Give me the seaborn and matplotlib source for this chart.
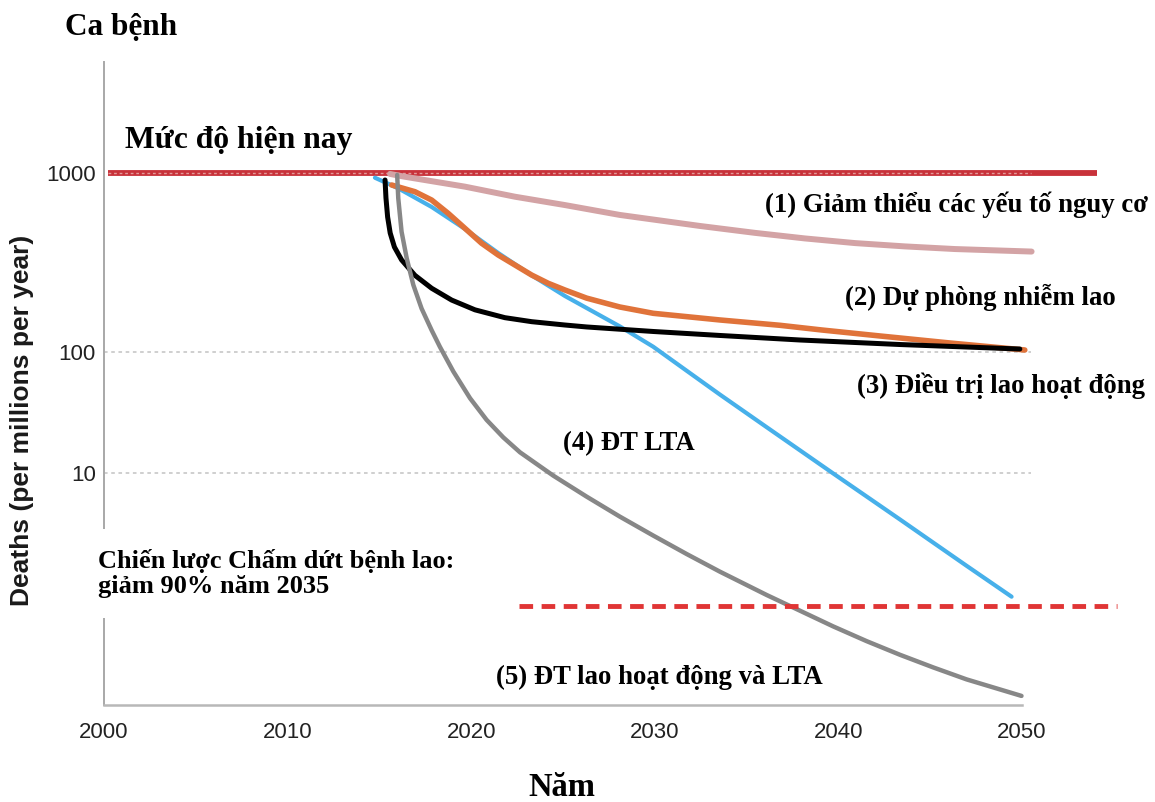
import numpy as np
import pandas as pd
import matplotlib
matplotlib.use("Agg")
import matplotlib.pyplot as plt
import seaborn as sns
from matplotlib.ticker import NullLocator

# ---------------- data ----------------
x_ticks = [2000, 2010, 2020, 2030, 2040, 2050]
y_ticks = [10, 100, 1000]
y_tick_labels = ["10", "100", "1000"]

current_level_years = [2000.2, 2054.1]
current_level = [1000, 1000]

target_years = [2022.6, 2055.2]
target_level = [0.8, 0.8]

# (1) risk-factor reduction
s1_years = [2015.58, 2016.39, 2019.66, 2022.39, 2025.11, 2028.10, 2032.46, 2035.46,
            2038.18, 2040.90, 2043.63, 2046.35, 2050.53]
s1_vals = [988, 953, 839, 737, 662, 583, 506, 463, 431, 406, 389, 376, 364]

# (2) infection prevention
s2_years = [2015.67, 2016.94, 2017.85, 2018.75, 2019.66, 2020.57, 2021.48, 2022.39,
            2023.30, 2024.20, 2025.11, 2026.29, 2028.10, 2029.92, 2033.55, 2036.82,
            2039.11, 2042.27, 2046.08, 2050.16]
s2_vals = [857, 786, 706, 595, 491, 405, 348, 306, 269, 242, 222, 200, 178.4, 164.5,
           151, 141, 132.7, 122.9, 112.3, 102.6]

# (3) active TB treatment
s3_years = [2015.31, 2015.36, 2015.45, 2015.59, 2015.82, 2016.21, 2016.94, 2017.85,
            2018.94, 2020.21, 2021.84, 2023.30, 2025.11, 2026.29, 2029.92, 2033.55,
            2037.91, 2043.36, 2049.89]
s3_vals = [914, 725, 568, 462, 386, 327, 268, 227, 195, 172, 155.5, 147.7, 141.5,
           138, 130.2, 123.7, 116.7, 110.1, 103.9]

# (4) LTBI treatment
s4_years = [2014.76, 2016.03, 2017.85, 2019.66, 2021.48, 2023.30, 2025.11, 2028.10,
            2029.92, 2031.74, 2033.55, 2036.10, 2037.91, 2039.72, 2041.54, 2043.36,
            2045.17, 2046.99, 2049.44]
s4_vals = [941, 821, 646, 487, 357, 268, 205.5, 139, 107, 70.0, 44.5, 23.9, 15.4,
           9.92, 6.40, 4.13, 2.66, 1.71, 0.95]

# (5) active TB + LTBI treatment
s5_years = [2015.97, 2016.03, 2016.21, 2016.49, 2016.85, 2017.30, 2017.85, 2018.30,
            2019.03, 2019.94, 2020.84, 2021.75, 2022.66, 2024.47, 2026.29, 2028.10,
            2029.92, 2031.74, 2033.55, 2036.10, 2037.91, 2039.72, 2041.54, 2043.36,
            2045.17, 2046.99, 2049.98]
s5_vals = [975, 722, 470, 334, 237, 175, 132.2, 106.8, 69.0, 41.5, 27.5, 19.7, 14.83,
           9.52, 6.38, 4.36, 3.04, 2.14, 1.53, 0.981, 0.728, 0.540, 0.408, 0.3145,
           0.2474, 0.1969, 0.1438]

series_labels = [
    "(1) Giảm thiểu các yếu tố nguy cơ",
    "(2) Dự phòng nhiễm lao",
    "(3) Điều trị lao hoạt động",
    "(4) ĐT LTA",
    "(5) ĐT lao hoạt động và LTA",
]

# ---------------- style ----------------
sns.set_style("white")
plt.rcParams["font.family"] = ["Liberation Sans", "DejaVu Sans"]

W, H = 1155, 802
fig = plt.figure(figsize=(W / 100, H / 100), dpi=100)
ax = fig.add_axes([104 / W, 1 - 705 / H, (1132 - 104) / W, (705 - 62) / H])


# piecewise-logarithmic axis (the reference's decades have unequal heights)
def fwd(v):
    v = np.asarray(v, dtype=float)
    with np.errstate(all="ignore"):
        t = np.log10(np.clip(v, 1e-12, None))
    return np.where(t <= 2, 121.0 * t, 242.0 + 179.0 * (t - 2))


def inv(u):
    u = np.clip(np.asarray(u, dtype=float), -2000, 2000)
    with np.errstate(all="ignore"):
        return np.where(u <= 242, 10 ** (u / 121.0), 10 ** (2 + (u - 242.0) / 179.0))


ax.set_yscale("function", functions=(fwd, inv))
ax.set_xlim(2000, 2056)
ax.set_ylim(float(inv(-111)), float(inv(532)))

# grid lines (dotted)
for v in y_ticks[:2]:
    ax.hlines(v, x_ticks[0], x_ticks[-1] + 0.5, colors="#cccccc", linewidth=1.3,
              linestyles=(0, (2, 2)), zorder=1)

# current level
ax.plot(current_level_years, current_level, color="#c8323a", linewidth=4.2,
        solid_capstyle="butt", zorder=2)
ax.hlines(current_level[0], x_ticks[0] + 0.2, x_ticks[-1] + 0.5, colors="#e49a9a",
          linewidth=1.0, linestyles=(0, (2, 2)), zorder=2.1)

frames = [
    (s1_years, s1_vals, "#d3a3a5", 4.3, 3),
    (s4_years, s4_vals, "#47b0ea", 3.0, 4),
    (s2_years, s2_vals, "#e0733a", 4.0, 5),
    (s3_years, s3_vals, "#000000", 3.6, 6),
    (s5_years, s5_vals, "#878787", 3.2, 7),
]
for yrs, vals, col, lw, z in frames:
    df = pd.DataFrame({"year": yrs, "value": vals})
    sns.lineplot(data=df, x="year", y="value", ax=ax, color=col, linewidth=lw,
                 sort=False, estimator=None, zorder=z)
for ln in ax.get_lines():
    ln.set_solid_joinstyle("round")

# target line
ax.plot(target_years, target_level, color="#e03535", linewidth=3.5,
        linestyle=(0, (2.8, 1.75)), zorder=8)

# axes cosmetics
for sp in ["top", "right"]:
    ax.spines[sp].set_visible(False)
ax.spines["left"].set_color("#a8a8a8")
ax.spines["left"].set_linewidth(1.4)
ax.spines["bottom"].set_color("#b8b8b8")
ax.spines["bottom"].set_linewidth(1.8)
ax.spines["bottom"].set_bounds(x_ticks[0], x_ticks[-1])

ax.set_xticks(x_ticks)
ax.set_xticklabels([str(x) for x in x_ticks])
ax.set_yticks(y_ticks)
ax.set_yticklabels(y_tick_labels)
ax.yaxis.set_minor_locator(NullLocator())
ax.xaxis.set_minor_locator(NullLocator())
ax.tick_params(axis="x", direction="inout", length=10, width=1.2, color="#b8b8b8",
               pad=7, labelsize=16, labelcolor="#222222")
ax.tick_params(axis="y", length=0, pad=6, labelsize=16, labelcolor="#222222")
ax.set_xlabel("")
ax.set_ylabel("")
ax.grid(False)

serif = ["Liberation Serif", "DejaVu Serif"]


def ftext(px, py, s, size, **kw):
    return fig.text(px / W, 1 - py / H, s, fontsize=size, family=serif,
                    fontweight="bold", va="baseline", ha="left", color="black", **kw)


ftext(65, 35, "Ca bệnh", 22.5)
ftext(125, 148, "Mức độ hiện nay", 22.8)
ftext(528, 796, "Năm", 23.5)
ftext(765, 212, series_labels[0], 19.3)
ftext(845, 305, series_labels[1], 19.3)
ftext(857, 393, series_labels[2], 19.3)
ftext(563, 450, series_labels[3], 19.3)
ftext(496, 684, series_labels[4], 19.3)
fig.text(98 / W, 1 - 593 / H, "Chiến lược Chấm dứt bệnh lao:\ngiảm 90% năm 2035",
         fontsize=19, family=serif, fontweight="bold", va="baseline", ha="left",
         color="black", linespacing=1.12, zorder=10,
         bbox=dict(facecolor="white", edgecolor="none", boxstyle="square,pad=0.75"))

fig.text(22 / W, 1 - 420 / H, "Deaths (per millions per year)", rotation=90,
         fontsize=19, fontweight="bold", color="#1a1a1a", ha="center", va="center",
         family=["Liberation Sans", "DejaVu Sans"])

fig.savefig("out.png", dpi=100)
